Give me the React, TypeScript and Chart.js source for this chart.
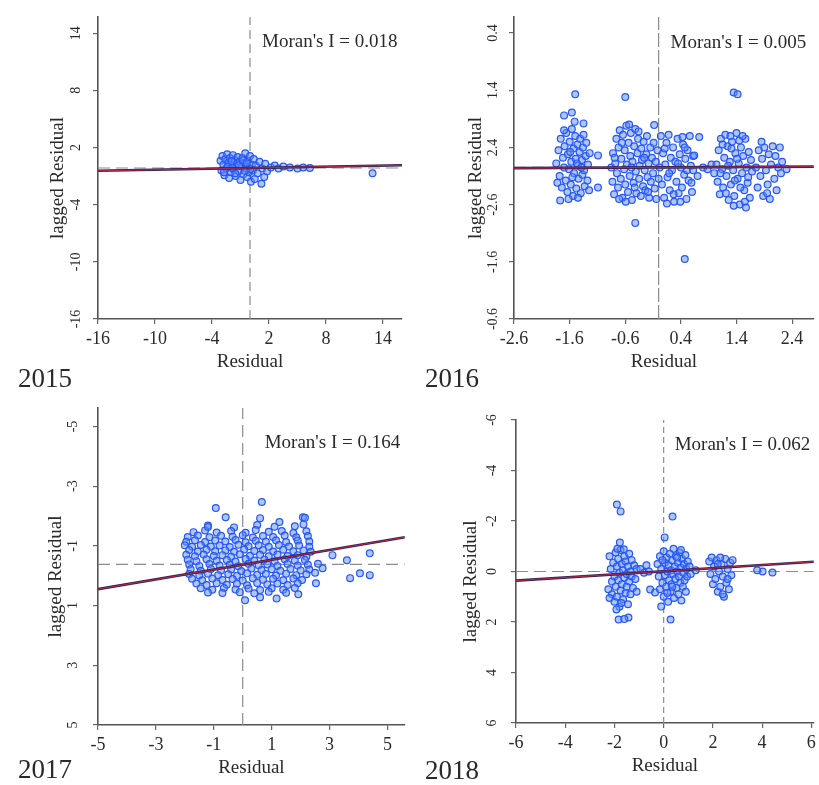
import React, { useEffect, useRef } from 'react';
import { Chart, registerables } from 'chart.js';
Chart.register(...registerables);

const SERIF = '"Liberation Serif", "Times New Roman", Times, serif';
const TEXT = '#2a2a2a';

// ---------- data ----------
const years = ['2015', '2016', '2017', '2018'];
const moransI = [0.018, 0.005, 0.164, 0.062];
const intercepts = [-0.15, 0.05, 0.37, 0.01];
const meanLagged = [-0.15, 0.05, 0.38, 0];

const xTicks2015 = [-16, -10, -4, 2, 8, 14];
const xLabels2015 = ['-16', '-10', '-4', '2', '8', '14'];
const yTicks2015 = [14, 8, 2, -4, -10, -16];
const yLabels2015 = ['14', '8', '2', '-4', '-10', '-16'];

const xTicks2016 = [-2.6, -1.6, -0.6, 0.4, 1.4, 2.4];
const xLabels2016 = ['-2.6', '-1.6', '-0.6', '0.4', '1.4', '2.4'];
const yTicks2016 = [2.4, 1.4, 0.4, -0.6, -1.6, -2.6];
const yLabels2016 = ['0.4', '1.4', '2.4', '-2.6', '-1.6', '-0.6'];

const xTicks2017 = [-5, -3, -1, 1, 3, 5];
const xLabels2017 = ['-5', '-3', '-1', '1', '3', '5'];
const yTicks2017 = [5, 3, 1, -1, -3, -5];
const yLabels2017 = ['-5', '-3', '-1', '1', '3', '5'];

const xTicks2018 = [-6, -4, -2, 0, 2, 4, 6];
const xLabels2018 = ['-6', '-4', '-2', '0', '2', '4', '6'];
const yTicks2018 = [6, 4, 2, 0, -2, -4, -6];
const yLabels2018 = ['-6', '-4', '-2', '0', '2', '4', '6'];

const resid2015: number[][] = [
  [-3.1, 0.6], [-3.0, -0.4], [-2.9, 1.1], [-2.8, 0.2], [-2.7, -0.9], [-2.6, 0.8], [-2.5, -0.2], [-2.4, 1.3],
  [-2.3, 0.4], [-2.2, -1.2], [-2.1, 0.9], [-2.0, -0.6], [-1.9, 0.1], [-1.8, 1.2], [-1.7, -0.3], [-1.6, 0.7],
  [-1.5, -1.0], [-1.4, 0.3], [-1.3, 1.0], [-1.2, -0.5], [-1.1, 0.5], [-1.0, -1.4], [-0.9, 0.0], [-0.8, 0.9],
  [-0.7, -0.8], [-0.6, 0.4], [-0.5, 1.4], [-0.4, -0.2], [-0.3, -1.1], [-0.2, 0.6], [-0.1, -0.6], [0.0, 1.1],
  [0.1, -1.6], [0.2, 0.2], [0.3, -0.4], [0.4, 0.8], [0.5, -1.3], [0.6, 0.1], [0.8, -0.7], [1.0, 0.5],
  [1.2, -1.8], [1.3, -0.2], [1.5, -1.1], [1.6, 0.3], [1.8, -0.5], [-2.75, -0.6], [-2.35, 0.0], [-1.95, 0.55],
  [-1.55, -0.7], [-1.15, 0.15], [-0.75, 0.65], [-0.35, 0.35], [0.05, -0.25], [-0.55, -0.45], [-1.85, -0.15],
  [2.2, -0.1], [2.6, 0.1], [3.0, -0.2], [3.5, 0.0], [4.2, -0.1], [5.0, -0.2], [5.6, -0.1], [6.3, -0.15], [12.9, -0.7],
];

const resid2016: number[][] = [
  [-1.84, 0.12], [-1.80, 0.35], [-1.78, -0.10], [-1.76, 0.55], [-1.74, -0.30], [-1.72, 0.22], [-1.70, 0.05],
  [-1.69, 0.42], [-1.67, -0.18], [-1.66, 0.65], [-1.64, -0.38], [-1.63, 0.28], [-1.61, 0.02], [-1.60, 0.50],
  [-1.58, -0.25], [-1.57, 0.15], [-1.56, 0.72], [-1.54, -0.45], [-1.53, 0.38], [-1.52, -0.05], [-1.50, 0.60],
  [-1.49, 0.20], [-1.48, -0.32], [-1.46, 0.45], [-1.45, 0.08], [-1.44, -0.15], [-1.42, 0.32], [-1.41, 0.55],
  [-1.40, -0.40], [-1.38, 0.18], [-1.37, -0.08], [-1.36, 0.40], [-1.34, 0.00], [-1.33, -0.28], [-1.31, 0.25],
  [-1.30, 0.48], [-1.28, -0.18], [-1.27, 0.10], [-1.25, -0.35], [-1.24, 0.30], [-1.62, -0.50], [-1.51, 0.85],
  [-1.70, 0.70], [-1.45, -0.48], [-1.35, 0.62], [-1.82, -0.22], [-1.59, 0.32], [-1.47, 0.12], [-1.39, 0.05],
  [-1.55, -0.12], [-1.5, 1.33], [-1.7, 0.96], [-1.56, 1.01], [-1.35, 0.82], [-1.77, -0.53], [-1.09, 0.26], [-1.09, -0.3],
  [-0.85, 0.05], [-0.83, -0.20], [-0.82, 0.30], [-0.80, -0.42], [-0.78, 0.12], [-0.76, 0.55], [-0.75, -0.05],
  [-0.73, -0.30], [-0.72, 0.40], [-0.70, 0.70], [-0.68, -0.15], [-0.67, 0.20], [-0.65, -0.48], [-0.64, 0.62],
  [-0.62, 0.02], [-0.61, 0.35], [-0.60, -0.25], [-0.58, 0.78], [-0.57, 0.10], [-0.55, -0.38], [-0.54, 0.48],
  [-0.52, -0.10], [-0.51, 0.25], [-0.50, 0.65], [-0.48, -0.52], [-0.47, 0.15], [-0.45, -0.22], [-0.44, 0.42],
  [-0.42, 0.72], [-0.41, -0.02], [-0.40, -0.40], [-0.38, 0.30], [-0.37, 0.55], [-0.35, -0.15], [-0.34, 0.08],
  [-0.32, -0.45], [-0.31, 0.38], [-0.30, 0.18], [-0.28, -0.28], [-0.27, 0.50], [-0.25, 0.00], [-0.24, -0.35],
  [-0.22, 0.28], [-0.21, 0.60], [-0.20, -0.12], [-0.18, 0.12], [-0.17, -0.48], [-0.15, 0.40], [-0.14, -0.20],
  [-0.12, 0.22], [-0.10, -0.05], [-0.09, 0.48], [-0.07, -0.32], [-0.05, 0.15], [-0.04, -0.50], [-0.02, 0.35],
  [0.00, -0.15], [0.02, 0.05], [-0.66, 0.48], [-0.59, -0.55], [-0.49, 0.05], [-0.43, -0.30], [-0.36, 0.68],
  [-0.26, 0.22], [-0.19, -0.38], [-0.79, 0.22], [-0.71, -0.50], [-0.53, 0.80],
  [-0.6, 1.28], [-0.08, 0.79], [-0.42, -0.92], [0.47, -1.55],
  [0.04, 0.60], [0.06, -0.25], [0.08, 0.30], [0.10, -0.48], [0.12, 0.10], [0.14, 0.48], [0.16, -0.12],
  [0.18, 0.62], [0.20, -0.35], [0.22, 0.22], [0.24, 0.00], [0.26, 0.40], [0.28, -0.55], [0.30, 0.15],
  [0.32, -0.20], [0.34, 0.55], [0.36, -0.40], [0.38, 0.28], [0.40, 0.05], [0.42, -0.30], [0.44, 0.45],
  [0.46, -0.08], [0.48, 0.20], [0.50, -0.50], [0.52, 0.35], [0.54, -0.18], [0.56, 0.60], [0.58, 0.08],
  [0.60, -0.38], [0.62, 0.25], [0.11, 0.38], [0.19, -0.05], [0.27, -0.42], [0.35, 0.12], [0.43, 0.58],
  [0.51, 0.00], [0.59, -0.22], [0.15, -0.58], [0.39, -0.55], [0.47, 0.40],
  [0.73, 0.58], [0.64, 0.26], [0.62, 0.0], [0.70, -0.1], [0.80, 0.05], [0.88, 0.02], [0.95, 0.10], [1.0, -0.05],
  [1.04, 0.10], [1.06, -0.20], [1.08, 0.35], [1.10, -0.42], [1.12, 0.55], [1.14, 0.02], [1.16, -0.30],
  [1.18, 0.22], [1.20, 0.62], [1.22, -0.10], [1.24, 0.42], [1.26, -0.52], [1.28, 0.15], [1.30, -0.25],
  [1.32, 0.50], [1.34, 0.00], [1.36, -0.45], [1.38, 0.30], [1.40, 0.65], [1.42, -0.15], [1.44, 0.12],
  [1.46, -0.60], [1.48, 0.40], [1.50, -0.05], [1.52, 0.25], [1.54, -0.35], [1.56, 0.55], [1.58, 0.05],
  [1.60, -0.22], [1.62, 0.32], [1.64, -0.48], [1.66, 0.18], [1.68, -0.02], [1.15, 0.45], [1.25, 0.08],
  [1.35, -0.62], [1.45, 0.52], [1.55, -0.55], [1.21, -0.40], [1.31, 0.38], [1.41, 0.20], [1.51, 0.60],
  [1.61, -0.12], [1.11, -0.05], [1.37, -0.18], [1.47, -0.30], [1.29, 0.60],
  [1.35, 1.36], [1.42, 1.33], [1.57, -0.65],
  [1.75, 0.05], [1.78, -0.30], [1.80, 0.35], [1.83, -0.10], [1.86, 0.20], [1.88, -0.45], [1.90, 0.40],
  [1.93, 0.00], [1.96, -0.25], [1.98, 0.28], [2.00, -0.50], [2.02, 0.10], [2.05, 0.42], [2.08, -0.15],
  [2.10, 0.25], [2.12, -0.35], [2.15, 0.05], [2.18, 0.40], [2.20, -0.05], [2.22, 0.15], [1.85, 0.50],
  [1.95, -0.40], [2.3, 0.02],
];

const resid2017: number[][] = [
  [-1.2, 1.68], [-0.3, 1.62], [0.5, 1.7], [1.1, 1.64], [1.8, 1.66], [2.1, 1.72],
  [-1.7, 1.46], [-1.3, 1.52], [-0.9, 1.45], [-0.4, 1.5], [0.1, 1.44], [0.45, 1.53], [0.9, 1.47], [1.35, 1.5], [1.75, 1.43], [2.2, 1.49],
  [-1.9, 1.3], [-1.55, 1.35], [-1.15, 1.29], [-0.75, 1.34], [-0.35, 1.31], [0.0, 1.36], [0.35, 1.28], [0.7, 1.33], [1.05, 1.3], [1.45, 1.35], [1.85, 1.29], [2.25, 1.33],
  [-1.95, 1.14], [-1.65, 1.19], [-1.3, 1.13], [-0.95, 1.18], [-0.6, 1.15], [-0.25, 1.2], [0.1, 1.12], [0.45, 1.17], [0.8, 1.14], [1.15, 1.19], [1.5, 1.13], [1.9, 1.18], [2.3, 1.15],
  [-2.0, 1.02], [-1.75, 0.97], [-1.45, 1.03], [-1.1, 0.98], [-0.8, 1.01], [-0.45, 0.96], [-0.15, 1.04], [0.2, 0.99], [0.55, 1.02], [0.9, 0.97], [1.25, 1.03], [1.6, 0.98], [1.95, 1.01], [2.3, 0.97],
  [-1.85, 0.86], [-1.55, 0.81], [-1.25, 0.87], [-0.95, 0.82], [-0.6, 0.85], [-0.3, 0.8], [0.05, 0.88], [0.4, 0.83], [0.7, 0.86], [1.05, 0.81], [1.4, 0.87], [1.75, 0.82], [2.1, 0.85], [2.35, 0.8],
  [-1.95, 0.7], [-1.65, 0.65], [-1.35, 0.71], [-1.0, 0.66], [-0.7, 0.69], [-0.4, 0.64], [-0.1, 0.72], [0.25, 0.67], [0.6, 0.7], [0.9, 0.65], [1.2, 0.71], [1.55, 0.66], [1.9, 0.69], [2.2, 0.64],
  [-1.9, 0.54], [-1.6, 0.49], [-1.25, 0.55], [-0.9, 0.5], [-0.55, 0.53], [-0.25, 0.48], [0.1, 0.56], [0.4, 0.51], [0.75, 0.54], [1.1, 0.49], [1.45, 0.55], [1.8, 0.5], [2.15, 0.53],
  [-1.85, 0.38], [-1.5, 0.33], [-1.15, 0.39], [-0.8, 0.34], [-0.45, 0.37], [-0.15, 0.32], [0.2, 0.4], [0.55, 0.35], [0.85, 0.38], [1.2, 0.33], [1.55, 0.39], [1.9, 0.34], [2.25, 0.37],
  [-1.8, 0.22], [-1.45, 0.17], [-1.1, 0.23], [-0.75, 0.18], [-0.4, 0.21], [-0.05, 0.16], [0.3, 0.24], [0.65, 0.19], [1.0, 0.22], [1.3, 0.17], [1.65, 0.23], [2.0, 0.18], [2.3, 0.21],
  [-1.85, 0.06], [-1.5, 0.01], [-1.2, 0.07], [-0.85, 0.02], [-0.5, 0.05], [-0.2, 0.0], [0.15, 0.08], [0.5, 0.03], [0.8, 0.06], [1.15, 0.01], [1.5, 0.07], [1.85, 0.02], [2.2, 0.05],
  [-1.75, -0.1], [-1.4, -0.15], [-1.05, -0.09], [-0.7, -0.14], [-0.35, -0.11], [0.0, -0.16], [0.35, -0.08], [0.7, -0.13], [1.05, -0.1], [1.4, -0.15], [1.75, -0.09], [2.05, -0.14],
  [-1.6, -0.26], [-1.25, -0.31], [-0.9, -0.25], [-0.55, -0.3], [-0.2, -0.27], [0.15, -0.32], [0.5, -0.24], [0.85, -0.29], [1.2, -0.26], [1.55, -0.31], [1.9, -0.25],
  [-1.45, -0.42], [-1.05, -0.47], [-0.65, -0.41], [-0.25, -0.46], [0.2, -0.43], [0.6, -0.48], [1.0, -0.42], [1.4, -0.47], [1.8, -0.41],
  [-1.2, -0.56], [-0.7, -0.58], [-0.1, -0.55], [0.4, -0.59], [0.9, -0.54], [1.5, -0.57],
  [-0.93, 2.27], [0.66, 2.47], [-0.59, 1.96], [2.08, 1.96], [2.15, 1.94], [1.27, 1.8], [-1.2, 1.63], [0.6, 1.93],
  [0.08, -0.82], [0.6, -0.72], [1.17, -0.76], [1.92, -0.62], [2.53, -0.25],
  [2.76, 0.25], [3.1, 0.69], [3.6, 0.52], [4.39, 0.75], [3.71, -0.08], [4.05, 0.08], [4.39, 0.02], [2.6, 0.4], [2.5, 0.1],
];

const resid2018: number[][] = [
  [-2.2, 0.6], [-2.15, 0.1], [-2.1, -0.4], [-2.1, -0.9], [-2.05, 0.35], [-2.0, -0.2], [-2.0, -1.2], [-1.95, 0.75],
  [-1.95, -0.6], [-1.9, 0.2], [-1.9, -1.0], [-1.85, 0.5], [-1.85, -0.35], [-1.8, -0.05], [-1.8, -1.4], [-1.75, 0.85],
  [-1.75, -0.75], [-1.7, 0.3], [-1.7, -0.5], [-1.65, 0.05], [-1.65, -1.1], [-1.6, 0.6], [-1.6, -0.25], [-1.55, -0.85],
  [-1.55, 0.4], [-1.5, -0.1], [-1.5, -0.6], [-1.45, 0.2], [-1.45, -1.3], [-1.4, 0.7], [-1.4, -0.4], [-1.35, 0.0],
  [-1.35, -0.9], [-1.3, 0.45], [-1.3, -0.2], [-1.25, -0.65], [-1.2, 0.25], [-1.15, -0.3], [-1.1, 0.1], [-1.1, -0.8],
  [-2.25, -0.7], [-2.2, -1.05], [-1.92, -1.5], [-1.72, -1.25], [-1.62, 0.88], [-1.88, 0.9],
  [-1.9, 2.65], [-1.75, 2.38], [-1.78, 1.15], [-1.83, -1.9], [-1.43, -1.82], [-1.6, -1.88],
  [-0.95, 0.1], [-0.8, -0.05], [-0.7, 0.25], [-0.55, -0.71], [-0.35, -0.83], [-0.6, 0.0],
  [-0.25, 0.3], [-0.2, -0.2], [-0.15, 0.6], [-0.15, -0.7], [-0.1, 0.1], [-0.05, -0.45], [0.0, 0.8], [0.0, -1.0],
  [0.05, 0.35], [0.05, -0.15], [0.1, -0.6], [0.12, 0.55], [0.15, 0.0], [0.18, -1.2], [0.2, 0.25], [0.22, -0.35],
  [0.25, 0.7], [0.28, -0.8], [0.3, 0.05], [0.32, -0.5], [0.35, 0.45], [0.38, -0.1], [0.4, 0.9], [0.42, -1.05],
  [0.45, 0.2], [0.48, -0.3], [0.5, 0.6], [0.52, -0.65], [0.55, 0.0], [0.58, 0.35], [0.6, -0.9], [0.62, -0.2],
  [0.65, 0.75], [0.68, -0.45], [0.7, 0.15], [0.72, -1.15], [0.75, 0.5], [0.78, -0.6], [0.8, -0.05], [0.82, 0.3],
  [0.85, -0.35], [0.88, 0.65], [0.9, -0.8], [0.92, 0.1], [0.95, -0.2], [0.98, 0.4], [1.05, 0.2], [1.1, -0.1],
  [1.3, 0.05], [-0.05, 0.45], [0.15, -0.85], [0.35, -0.6], [0.55, 0.55], [0.7, 0.85],
  [0.36, 2.18], [0.04, 1.35], [-0.1, -1.39], [0.28, -1.9],
  [1.85, 0.4], [1.9, -0.1], [1.95, 0.55], [2.0, -0.5], [2.05, 0.2], [2.1, -0.3], [2.15, 0.45], [2.2, -0.8],
  [2.25, 0.0], [2.3, -0.6], [2.35, 0.3], [2.4, -0.2], [2.45, -1.0], [2.5, 0.5], [2.55, -0.45], [2.6, 0.1],
  [2.65, -0.7], [2.7, 0.35], [2.75, -0.15], [2.8, 0.45], [2.2, 0.3], [2.4, -0.9], [2.6, -0.3], [2.3, 0.55],
  [4.42, -0.04], [4.02, 0.0], [3.8, 0.05],
];

// ---------- panel layout ----------
type PanelCfg = {
  year: string; moran: number; intercept: number; hline: number; points: number[][];
  xTicks: number[]; xLabels: string[]; yTicks: number[]; yLabels: string[];
  xMin: number; xMax: number; yMin: number; yMax: number;
  left: number; top: number; w: number; h: number;
  area: { l: number; r: number; t: number; b: number };
  vDash: number[]; moranDx: number; moranDy: number; yearX: number; yearY: number;
  yLabGap: number; yTitleGap: number;
};

const panels: PanelCfg[] = [
  {
    year: years[0], moran: moransI[0], intercept: intercepts[0], hline: meanLagged[0], points: resid2015,
    xTicks: xTicks2015, xLabels: xLabels2015, yTicks: yTicks2015, yLabels: yLabels2015,
    xMin: -16, xMax: 16, yMin: -16, yMax: 15.7,
    left: 0, top: 0, w: 410, h: 392, area: { l: 98, r: 402, t: 17, b: 319 },
    vDash: [9, 5], moranDx: 12, moranDy: 25, yearX: 18, yearY: 380, yLabGap: 22, yTitleGap: 40,
  },
  {
    year: years[1], moran: moransI[1], intercept: intercepts[1], hline: meanLagged[1], points: resid2016,
    xTicks: xTicks2016, xLabels: xLabels2016, yTicks: yTicks2016, yLabels: yLabels2016,
    xMin: -2.6, xMax: 2.79, yMin: -2.6, yMax: 2.68,
    left: 410, top: 0, w: 409, h: 392, area: { l: 104, r: 409, t: 17, b: 319 },
    vDash: [14, 3], moranDx: 12, moranDy: 26, yearX: 15, yearY: 380, yLabGap: 21, yTitleGap: 38,
  },
  {
    year: years[2], moran: moransI[2], intercept: intercepts[2], hline: meanLagged[2], points: resid2017,
    xTicks: xTicks2017, xLabels: xLabels2017, yTicks: yTicks2017, yLabels: yLabels2017,
    xMin: -5, xMax: 5.6, yMin: -5, yMax: 5.62,
    left: 0, top: 392, w: 410, h: 393, area: { l: 98, r: 410, t: 16, b: 333 },
    vDash: [12, 6], moranDx: 22, moranDy: 35, yearX: 18, yearY: 379, yLabGap: 25, yTitleGap: 42,
  },
  {
    year: years[3], moran: moransI[3], intercept: intercepts[3], hline: meanLagged[3], points: resid2018,
    xTicks: xTicks2018, xLabels: xLabels2018, yTicks: yTicks2018, yLabels: yLabels2018,
    xMin: -6, xMax: 6.1, yMin: -6, yMax: 6,
    left: 410, top: 392, w: 409, h: 393, area: { l: 106, r: 409, t: 28, b: 331 },
    vDash: [6, 4], moranDx: 11, moranDy: 25, yearX: 15, yearY: 380, yLabGap: 24, yTitleGap: 45,
  },
];

function Panel({ p }: { p: PanelCfg }) {
  const ref = useRef<HTMLCanvasElement>(null);
  useEffect(() => {
    if (!ref.current) return;
    const textPlugin = {
      id: 'panelText',
      afterDraw(chart: any) {
        const ctx = chart.ctx;
        const xs = chart.scales.x;
        const ys = chart.scales.y;
        const a = chart.chartArea;
        ctx.save();
        ctx.fillStyle = TEXT;
        ctx.textBaseline = 'middle';
        ctx.textAlign = 'center';
        ctx.font = `18px ${SERIF}`;
        p.xTicks.forEach((v, i) => {
          ctx.fillText(p.xLabels[i], xs.getPixelForValue(v), a.bottom + 20);
        });
        ctx.font = `14px ${SERIF}`;
        p.yTicks.forEach((v, i) => {
          ctx.save();
          ctx.translate(a.left - p.yLabGap, ys.getPixelForValue(v));
          ctx.rotate(-Math.PI / 2);
          ctx.fillText(p.yLabels[i], 0, 0);
          ctx.restore();
        });
        ctx.font = `19px ${SERIF}`;
        ctx.fillText('Residual', (a.left + a.right) / 2, a.bottom + 43);
        ctx.save();
        ctx.translate(a.left - p.yTitleGap, (a.top + a.bottom) / 2 + 10);
        ctx.rotate(-Math.PI / 2);
        ctx.fillText('lagged Residual', 0, 0);
        ctx.restore();
        ctx.textAlign = 'left';
        ctx.fillText(`Moran's I = ${p.moran.toFixed(3)}`, xs.getPixelForValue(0) + p.moranDx, a.top + p.moranDy);
        ctx.font = `27px ${SERIF}`;
        ctx.fillText(p.year, p.yearX, p.yearY);
        ctx.restore();
      },
    };

    const regY = (x: number) => p.intercept + p.moran * x;
    const chart = new Chart(ref.current, {
      type: 'scatter',
      data: {
        datasets: [
          {
            label: 'fit-red',
            data: [{ x: p.xMin, y: regY(p.xMin) }, { x: p.xMax, y: regY(p.xMax) }],
            showLine: true, borderColor: 'rgba(200,40,70,0.9)', borderWidth: 1, pointRadius: 0, order: 0,
          },
          {
            label: 'fit',
            data: [{ x: p.xMin, y: regY(p.xMin) }, { x: p.xMax, y: regY(p.xMax) }],
            showLine: true, borderColor: '#35204f', borderWidth: 2.6, pointRadius: 0, order: 1,
          },
          {
            label: 'residuals',
            data: p.points.map(([x, y]) => ({ x, y })),
            pointRadius: 3.4, borderWidth: 1.2,
            borderColor: '#2557f5', backgroundColor: 'rgba(95,140,255,0.5)', order: 2,
          },
          {
            label: 'h',
            data: [{ x: p.xMin, y: p.hline }, { x: p.xMax, y: p.hline }],
            showLine: true, borderColor: '#8c8c8c', borderWidth: 1.2, borderDash: [12, 6], pointRadius: 0, order: 3,
          },
          {
            label: 'v',
            data: [{ x: 0, y: p.yMin }, { x: 0, y: p.yMax }],
            showLine: true, borderColor: '#8c8c8c', borderWidth: 1.2, borderDash: p.vDash, pointRadius: 0, order: 4,
          },
        ],
      },
      options: {
        animation: false,
        responsive: false,
        devicePixelRatio: 1,
        layout: { padding: { left: 0, top: p.area.t, right: p.w - p.area.r, bottom: 0 } },
        plugins: { legend: { display: false }, tooltip: { enabled: false }, title: { display: false } },
        scales: {
          x: {
            type: 'linear', position: 'bottom', min: p.xMin, max: p.xMax,
            afterBuildTicks: (s: any) => { s.ticks = p.xTicks.map((v) => ({ value: v })); },
            afterFit: (s: any) => { s.height = p.h - p.area.b; },
            ticks: { display: false },
            grid: { display: true, drawOnChartArea: false, drawTicks: true, tickLength: 5, color: '#666', lineWidth: 1.2 },
            border: { display: true, color: '#555', width: 1.6 },
            title: { display: false },
          },
          y: {
            type: 'linear', position: 'left', min: p.yMin, max: p.yMax,
            afterBuildTicks: (s: any) => { s.ticks = p.yTicks.map((v) => ({ value: v })); },
            afterFit: (s: any) => { s.width = p.area.l; },
            ticks: { display: false },
            grid: { display: true, drawOnChartArea: false, drawTicks: true, tickLength: 5, color: '#666', lineWidth: 1.2 },
            border: { display: true, color: '#555', width: 1.6 },
            title: { display: false },
          },
        },
      },
      plugins: [textPlugin],
    } as any);
    return () => chart.destroy();
  }, [p]);
  return (
    <canvas
      ref={ref}
      width={p.w}
      height={p.h}
      style={{ position: 'absolute', left: p.left, top: p.top, width: p.w, height: p.h }}
    />
  );
}

export default function App() {
  return (
    <div style={{ position: 'fixed', left: 0, top: 0, width: 819, height: 785, background: '#fff', overflow: 'hidden' }}>
      {panels.map((p) => (
        <Panel key={p.year} p={p} />
      ))}
    </div>
  );
}
